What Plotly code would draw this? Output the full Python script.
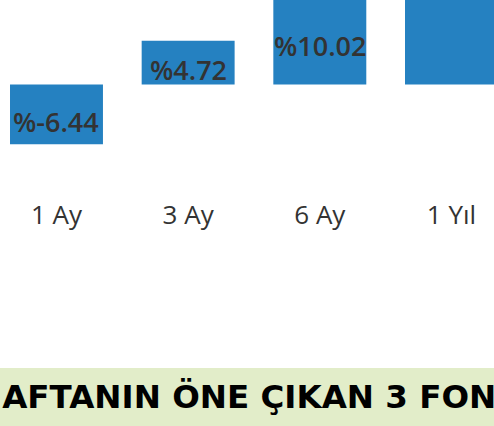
import plotly.graph_objects as go

categories = ["1 Ay", "3 Ay", "6 Ay", "1 Yıl"]
returns = [-6.44, 4.72, 10.02, 25.0]
labels = ["%-6.44", "%4.72", "%10.02", "%25.00"]
banner_text = "HAFTANIN ÖNE ÇIKAN 3 FON"

BAR = "#2581c1"
TXT = "#333333"
BAND = "#e2edc9"

W, H = 494, 426
PLOT_H = 195

fig = go.Figure()
fig.add_trace(go.Bar(x=list(range(len(categories))), y=returns,
                     marker=dict(color=BAR, line=dict(width=0)),
                     hoverinfo="skip"))

for i, (v, t) in enumerate(zip(returns, labels)):
    fig.add_annotation(x=i, y=v / 2, text=t, showarrow=False, yshift=-7,
                       font=dict(family="Open Sans", size=27, color=TXT, weight=600),
                       xanchor="center", yanchor="middle")

fig.add_shape(type="rect", xref="paper", yref="paper",
              x0=-0.1, x1=1.1, y0=(PLOT_H - 368) / PLOT_H, y1=(PLOT_H - 440) / PLOT_H,
              fillcolor=BAND, line=dict(width=0), layer="below")
fig.add_annotation(xref="paper", yref="paper", x=-27 / W, y=(PLOT_H - 397) / PLOT_H,
                   text=banner_text, showarrow=False, xanchor="left", yanchor="middle",
                   font=dict(family="DejaVu Sans", size=32.5, color="#000000", weight=700))

fig.update_layout(
    width=W, height=H,
    margin=dict(l=0, r=0, t=0, b=H - PLOT_H, pad=0),
    paper_bgcolor="white", plot_bgcolor="white",
    bargap=0.294, showlegend=False,
    xaxis=dict(range=[-0.429, 3.323], tickmode="array",
               tickvals=list(range(len(categories))), ticktext=categories,
               showgrid=False, zeroline=False, showline=False, ticks="",
               tickfont=dict(family="Open Sans", size=26, color=TXT),
               ticklabelstandoff=2),
    yaxis=dict(range=[-(PLOT_H - 84.5) / 9.28, 84.5 / 9.28], visible=False,
               showgrid=False, zeroline=False),
)

fig.write_html("out.html", config={"displayModeBar": False})
